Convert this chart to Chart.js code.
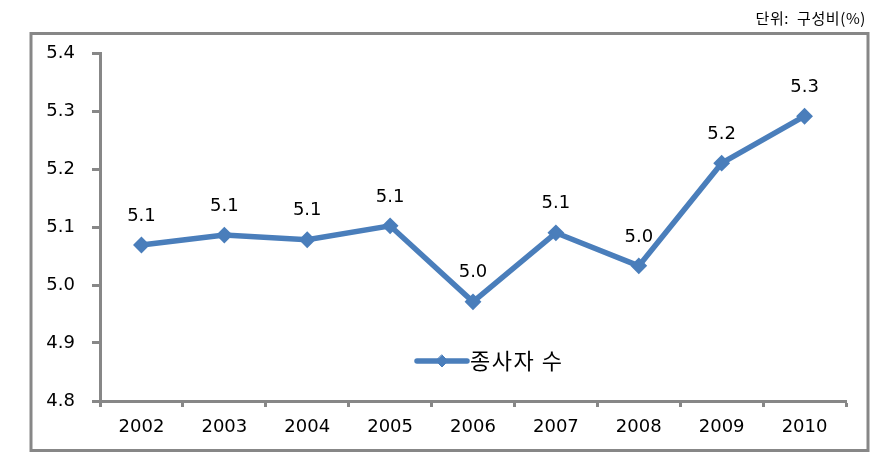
<!DOCTYPE html>
<html>
<head>
<meta charset="utf-8">
<script src="https://cdn.jsdelivr.net/npm/chart.js@4/dist/chart.umd.min.js"></script>
<style>
  html, body { margin: 0; padding: 0; background: #ffffff; }
  #wrap { position: relative; width: 891px; height: 473px; }
</style>
</head>
<body>
<div id="wrap"><canvas id="c" width="891" height="473"></canvas></div>
<script>
const categories = ['2002', '2003', '2004', '2005', '2006', '2007', '2008', '2009', '2010'];
const seriesName = '종사자 수';
const seriesValues = [5.069, 5.086, 5.078, 5.102, 4.971, 5.090, 5.033, 5.210, 5.291];
const yTicks = [4.8, 4.9, 5.0, 5.1, 5.2, 5.3, 5.4];
const unitLabel = '단위:  구성비(%)';

const BLUE = '#4a7ebb';
const GRAY = '#878787';
const NUM_FONT = '"DejaVu Sans", Verdana, sans-serif';
const KR_FONT = '"Noto Sans CJK KR", "Noto Sans", sans-serif';

const decorPlugin = {
  id: 'decor',
  beforeDraw(chart) {
    const ctx = chart.ctx;
    ctx.save();
    ctx.fillStyle = '#ffffff';
    ctx.fillRect(0, 0, chart.width, chart.height);
    ctx.strokeStyle = GRAY;
    ctx.lineWidth = 3;
    ctx.strokeRect(31, 33.5, 837, 417);
    ctx.fillStyle = '#000000';
    ctx.font = '15px ' + KR_FONT;
    ctx.letterSpacing = '0.6px';
    ctx.textAlign = 'right';
    ctx.textBaseline = 'middle';
    ctx.fillText(unitLabel, 866, 18);
    ctx.restore();
  },
  afterDatasetsDraw(chart) {
    const ctx = chart.ctx;
    const meta = chart.getDatasetMeta(0);
    const ds = chart.data.datasets[0];
    ctx.save();
    ctx.fillStyle = '#000000';
    ctx.font = '18px ' + NUM_FONT;
    ctx.textAlign = 'center';
    ctx.textBaseline = 'middle';
    meta.data.forEach((pt, i) => {
      ctx.fillText(ds.data[i].toFixed(1), pt.x, pt.y - 29);
    });
    // legend inside plot area
    const lx1 = 417, lx2 = 467, ly = 361;
    ctx.strokeStyle = ds.borderColor;
    ctx.lineWidth = ds.borderWidth;
    ctx.lineCap = 'round';
    ctx.beginPath();
    ctx.moveTo(lx1, ly);
    ctx.lineTo(lx2, ly);
    ctx.stroke();
    ctx.fillStyle = ds.pointBackgroundColor;
    ctx.strokeStyle = ds.pointBorderColor;
    ctx.lineWidth = 1;
    ctx.beginPath();
    const r = 6, cx = (lx1 + lx2) / 2;
    ctx.moveTo(cx, ly - r); ctx.lineTo(cx + r, ly); ctx.lineTo(cx, ly + r); ctx.lineTo(cx - r, ly); ctx.closePath();
    ctx.fill(); ctx.stroke();
    ctx.fillStyle = '#000000';
    ctx.font = '22px ' + KR_FONT;
    ctx.letterSpacing = '1.5px';
    ctx.textAlign = 'left';
    ctx.fillText(seriesName, 470, ly);
    ctx.restore();
  }
};

new Chart(document.getElementById('c'), {
  type: 'line',
  data: {
    labels: categories,
    datasets: [{
      label: seriesName,
      data: seriesValues,
      borderColor: BLUE,
      backgroundColor: BLUE,
      borderWidth: 5.5,
      tension: 0,
      pointStyle: 'rectRot',
      pointRadius: 7,
      pointBorderWidth: 2,
      pointBackgroundColor: BLUE,
      pointBorderColor: BLUE
    }]
  },
  options: {
    responsive: false,
    animation: false,
    devicePixelRatio: 1,
    layout: { padding: { left: 0, right: 45, top: 53, bottom: 0 } },
    plugins: {
      legend: { display: false },
      tooltip: { enabled: false },
      title: { display: false }
    },
    scales: {
      x: {
        type: 'category',
        offset: true,
        afterFit(scale) { scale.height = 72; },
        grid: {
          display: true,
          offset: true,
          drawOnChartArea: false,
          drawTicks: true,
          tickLength: 6,
          tickWidth: 3,
          color: GRAY
        },
        border: { display: true, color: GRAY, width: 3 },
        ticks: {
          color: '#000000',
          font: { family: NUM_FONT, size: 18 },
          padding: 10,
          maxRotation: 0,
          autoSkip: false
        }
      },
      y: {
        type: 'linear',
        min: 4.8,
        max: 5.4,
        afterFit(scale) { scale.width = 100; },
        afterBuildTicks(scale) { scale.ticks = yTicks.map(v => ({ value: v })); },
        grid: {
          display: true,
          drawOnChartArea: false,
          drawTicks: true,
          tickLength: 8,
          tickWidth: 3,
          color: GRAY
        },
        border: { display: true, color: GRAY, width: 3 },
        ticks: {
          color: '#000000',
          font: { family: NUM_FONT, size: 18 },
          padding: 17,
          callback: (v) => Number(v).toFixed(1)
        }
      }
    }
  },
  plugins: [decorPlugin]
});
</script>
</body>
</html>
